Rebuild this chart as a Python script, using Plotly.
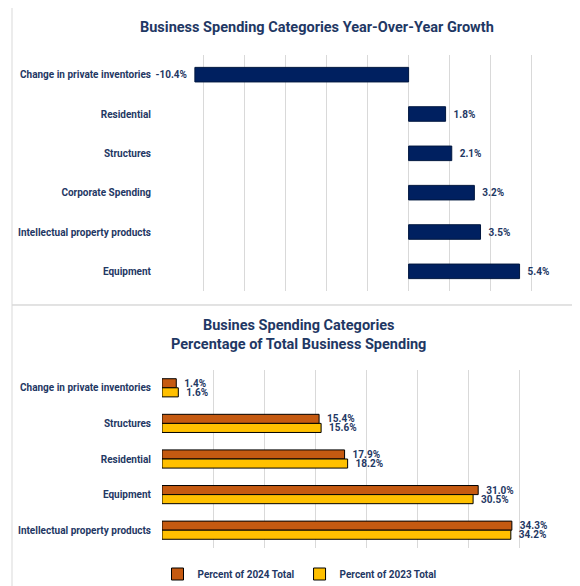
import plotly.graph_objects as go

# ---- data ----
growth_categories = ["Change in private inventories", "Residential", "Structures",
                     "Corporate Spending", "Intellectual property products", "Equipment"]
growth_values = [-10.4, 1.8, 2.1, 3.2, 3.5, 5.4]

share_categories = ["Change in private inventories", "Structures", "Residential",
                    "Equipment", "Intellectual property products"]
share_2024 = [1.4, 15.4, 17.9, 31.0, 34.3]
share_2023 = [1.6, 15.6, 18.2, 30.5, 34.2]

title_top = "Business Spending Categories Year-Over-Year Growth"
title_bottom = "Busines Spending Categories<br>Percentage of Total Business Spending"

W, H = 580, 586
NAVY = "#1F3864"
BAR = "#002060"
GRID = "#D9D9D9"
FONT = "Roboto, Arial, sans-serif"
LBL = 10


def px(x):
    return x / W


def py(y):
    return 1 - y / H


label_font = dict(color=NAVY, size=LBL, family=FONT, weight="bold")

fig = go.Figure()

fig.add_trace(go.Bar(
    x=growth_values, y=growth_categories, orientation="h",
    marker=dict(color=BAR, line=dict(color="#00173F", width=1)),
    width=0.37,
    texttemplate="  %{x:.1f}%  ", textposition="outside", constraintext="none",
    textfont=label_font,
    cliponaxis=False, showlegend=False,
    xaxis="x", yaxis="y",
))

fig.add_trace(go.Bar(
    x=share_2024, y=share_categories, orientation="h", name="Percent of 2024 Total",
    marker=dict(color="#C55A11", line=dict(color="#000000", width=1)),
    width=0.255, offset=-0.255,
    texttemplate="  %{x:.1f}%", textposition="outside", constraintext="none",
    textfont=label_font,
    cliponaxis=False, xaxis="x2", yaxis="y2",
))
fig.add_trace(go.Bar(
    x=share_2023, y=share_categories, orientation="h", name="Percent of 2023 Total",
    marker=dict(color="#FFC000", line=dict(color="#000000", width=1)),
    width=0.255, offset=0,
    texttemplate="  %{x:.1f}%", textposition="outside", constraintext="none",
    textfont=label_font,
    cliponaxis=False, xaxis="x2", yaxis="y2",
))

fig.update_layout(
    width=W, height=H,
    margin=dict(l=0, r=0, t=0, b=0),
    paper_bgcolor="white", plot_bgcolor="rgba(0,0,0,0)",
    barmode="overlay",
    font=dict(family=FONT, color=NAVY),
    xaxis=dict(domain=[px(154), px(565)], range=[-12, 8], dtick=2, tick0=0,
               showgrid=True, gridcolor=GRID, gridwidth=1, zeroline=False,
               showticklabels=False, showline=False, anchor="y"),
    yaxis=dict(domain=[py(283), py(47)], autorange="reversed", showgrid=False,
               zeroline=False, showline=False, tickfont=label_font,
               ticks="outside", ticklen=8, tickcolor="rgba(0,0,0,0)", anchor="x"),
    xaxis2=dict(domain=[px(154), px(562)], range=[0, 40], dtick=5, tick0=0,
                showgrid=True, gridcolor=GRID, gridwidth=1, zeroline=False,
                showticklabels=False, showline=False, anchor="y2"),
    yaxis2=dict(domain=[py(540), py(362)], autorange="reversed", showgrid=False,
                zeroline=False, showline=False, tickfont=label_font,
                ticks="outside", ticklen=8, tickcolor="rgba(0,0,0,0)", anchor="x2"),
    legend=dict(orientation="h", x=px(292), y=py(566), xanchor="center", yanchor="middle",
                font=label_font, itemwidth=30, bgcolor="rgba(0,0,0,0)",
                traceorder="normal"),
    annotations=[
        dict(text="<b>" + title_top + "</b>", x=px(309), y=py(20), xref="paper", yref="paper",
             xanchor="center", yanchor="middle", showarrow=False,
             font=dict(size=14.5, color=NAVY, family=FONT)),
        dict(text="<b>" + title_bottom + "</b>", x=px(290), y=py(327), xref="paper", yref="paper",
             xanchor="center", yanchor="middle", showarrow=False,
             font=dict(size=14.5, color=NAVY, family=FONT)),
    ],
    shapes=[
        dict(type="rect", xref="paper", yref="paper", x0=px(4), x1=px(577), y0=py(297), y1=py(-1),
             line=dict(color=GRID, width=1), fillcolor="rgba(0,0,0,0)", layer="below"),
        dict(type="rect", xref="paper", yref="paper", x0=px(4), x1=px(577), y0=py(585), y1=py(297),
             line=dict(color=GRID, width=1), fillcolor="rgba(0,0,0,0)", layer="below"),
    ],
)

fig.write_html("out.html")
